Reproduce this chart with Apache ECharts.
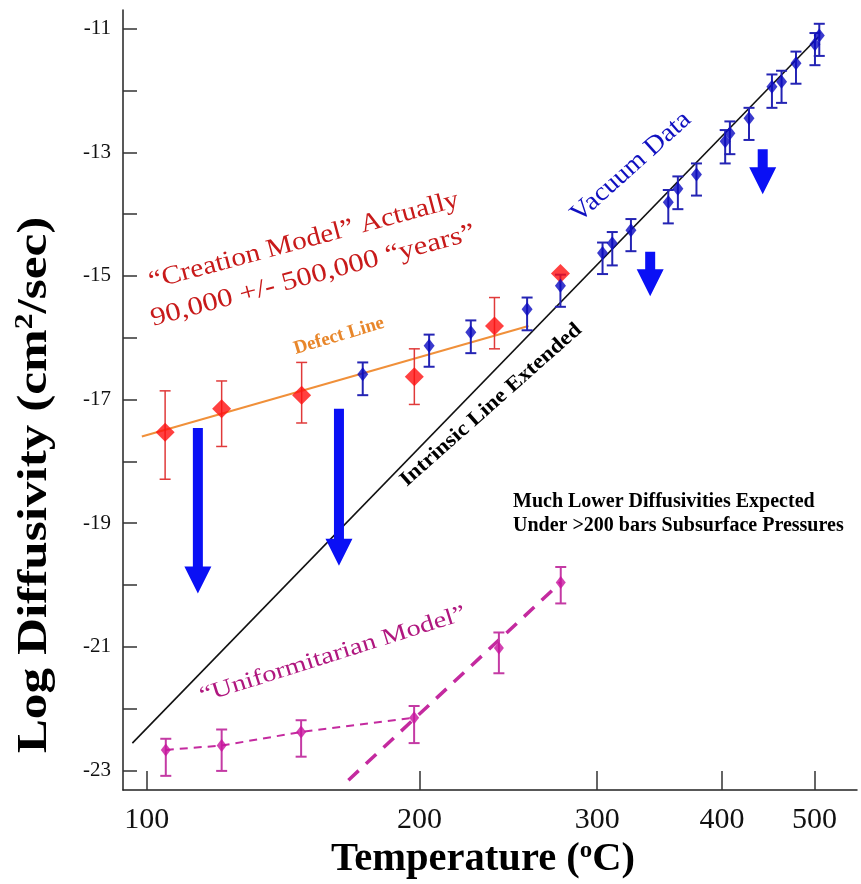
<!DOCTYPE html>
<html lang="en">
<head>
    <meta charset="UTF-8">
    <title>Log Diffusivity vs Temperature</title>
    <style>
        html, body { margin: 0; padding: 0; background: #fff; }
    </style>
</head>
<body>

<div id="main" style="width: 861px; height: 884px;"></div>

<script src="https://cdn.jsdelivr.net/npm/echarts@6/dist/echarts.min.js"></script>
<script>
    // temperatures in deg C, diffusivity as log10(cm^2/sec)
    var tempTicks = [100, 200, 300, 400, 500];
    var logTicks = [-23, -22, -21, -20, -19, -18, -17, -16, -15, -14, -13, -12, -11];
    var logLabels = [-23, -21, -19, -17, -15, -13, -11];

    // red diamonds (defect line points)
    var redT = [105.4, 123.0, 150.9, 197.6, 237.6, 276.0];
    var redD = [-17.53, -17.15, -16.93, -16.63, -15.81, -14.96];
    var redLo = [-18.29, -17.76, -17.38, -17.08, -16.18, null];
    var redHi = [-16.86, -16.70, -16.40, -16.18, -15.35, null];

    // blue diamonds (vacuum data)
    var blueT = [175.0, 204.5, 225.1, 255.9, 276.0, 303.7, 310.5, 324.0, 353.0, 360.9,
        376.8, 403.0, 407.5, 426.4, 450.5, 461.1, 477.6, 500.5, 505.9];
    var blueD = [-16.59, -16.13, -15.91, -15.54, -15.16, -14.63, -14.47, -14.26, -13.81, -13.59,
        -13.36, -12.82, -12.69, -12.45, -11.94, -11.86, -11.56, -11.25, -11.11];
    var blueLo = [-16.93, -16.47, -16.25, -15.88, -15.50, -14.97, -14.83, -14.60, -14.15, -13.92,
        -13.70, -13.18, -13.03, -12.80, -12.28, -12.20, -11.89, -11.59, -11.44];
    var blueHi = [-16.40, -15.95, -15.72, -15.35, -14.98, -14.46, -14.29, -14.08, -13.61, -13.39,
        -13.18, -12.64, -12.50, -12.28, -11.74, -11.68, -11.37, -11.07, -10.92];

    // purple diamonds (uniformitarian model)
    var purpleT = [105.6, 123.0, 150.7, 197.5, 240.0, 276.2];
    var purpleD = [-22.67, -22.60, -22.38, -22.15, -21.02, -19.96];
    var purpleLo = [-23.09, -23.01, -22.78, -22.56, -21.43, -20.30];
    var purpleHi = [-22.49, -22.34, -22.19, -21.96, -20.77, -19.71];

    // straight lines (end points)
    var intrinsicT = [95.9, 505.0];
    var intrinsicD = [-22.56, -11.13];
    var defectT = [98.6, 256.7];
    var defectD = [-17.60, -15.81];
    var steepT = [169.1, 276.2];
    var steepD = [-23.16, -19.96];

    // big blue arrows: temperature, start, tip
    var arrowT = [115.4, 165.3, 338.6, 440.6];
    var arrowFrom = [-17.46, -17.15, -14.61, -12.95];
    var arrowTo = [-20.14, -19.69, -15.33, -13.68];

    // x axis is inverse absolute temperature (1000/K)
    function inv(t) { return 1000 / (t + 273.15); }

    function points(ts, ds) {
        return ts.map(function (t, i) { return [inv(t), ds[i]]; });
    }
    function bars(ts, lo, hi) {
        var out = [];
        ts.forEach(function (t, i) {
            if (lo[i] != null) out.push([inv(t), lo[i], hi[i]]);
        });
        return out;
    }

    function errorBar(color, width, cap) {
        return function (params, api) {
            var x = api.value(0);
            var a = api.coord([x, api.value(1)]);
            var b = api.coord([x, api.value(2)]);
            var h = cap / 2;
            var st = { stroke: color, lineWidth: width };
            return {
                type: 'group',
                children: [
                    { type: 'line', shape: { x1: a[0], y1: a[1], x2: b[0], y2: b[1] }, style: st },
                    { type: 'line', shape: { x1: a[0] - h, y1: a[1], x2: a[0] + h, y2: a[1] }, style: st },
                    { type: 'line', shape: { x1: b[0] - h, y1: b[1], x2: b[0] + h, y2: b[1] }, style: st }
                ]
            };
        };
    }

    function arrowItem(params, api) {
        var x = api.value(0);
        var top = api.coord([x, api.value(1)]);
        var tip = api.coord([x, api.value(2)]);
        var cx = top[0], s = 5, hw = 13.5, hl = 27;
        var yb = tip[1] - hl;
        return {
            type: 'polygon',
            shape: {
                points: [[cx - s, top[1]], [cx + s, top[1]], [cx + s, yb], [cx + hw, yb],
                    [cx, tip[1]], [cx - hw, yb], [cx - s, yb]]
            },
            style: { fill: '#0a10f5' }
        };
    }

    var serif = '"Liberation Serif", "Times New Roman", serif';

    var myChart = echarts.init(document.getElementById('main'));

    var option = {
        animation: false,
        grid: { left: 123, right: 4, top: 10, bottom: 94 },
        xAxis: {
            type: 'value',
            inverse: true,
            min: 1.2053,
            max: 2.7291,
            splitLine: { show: false },
            axisLine: { lineStyle: { color: '#222', width: 1.5 } },
            axisTick: {
                inside: true, length: 19,
                lineStyle: { color: '#333', width: 1.5 },
                customValues: tempTicks.map(inv)
            },
            axisLabel: {
                customValues: tempTicks.map(inv),
                margin: 15,
                color: '#111',
                fontFamily: serif,
                fontSize: 30,
                formatter: function (v) { return String(Math.round(1000 / v - 273.15)); }
            }
        },
        yAxis: {
            type: 'value',
            min: -23.319,
            max: -10.697,
            splitLine: { show: false },
            axisLine: { show: true, lineStyle: { color: '#222', width: 1.5 } },
            axisTick: {
                show: true, inside: true, length: 14,
                lineStyle: { color: '#333', width: 1.5 },
                customValues: logTicks
            },
            axisLabel: {
                customValues: logLabels,
                margin: 12,
                color: '#111',
                fontFamily: serif,
                fontSize: 21
            }
        },
        series: [
            {
                type: 'line', data: points(intrinsicT, intrinsicD), showSymbol: false, silent: true,
                lineStyle: { color: '#111', width: 1.6 }, z: 2
            },
            {
                type: 'line', data: points(defectT, defectD), showSymbol: false, silent: true,
                lineStyle: { color: '#f0903a', width: 2 }, z: 2
            },
            {
                type: 'line', data: points(purpleT.slice(0, 4), purpleD.slice(0, 4)), showSymbol: false,
                silent: true, lineStyle: { color: '#c42a9f', width: 2, type: [8, 6] }, z: 2
            },
            {
                type: 'line', data: points(steepT, steepD), showSymbol: false, silent: true,
                lineStyle: { color: '#c42a9f', width: 3.5, type: [14, 10] }, z: 2
            },
            {
                type: 'custom', renderItem: arrowItem, silent: true, z: 3,
                data: arrowT.map(function (t, i) { return [inv(t), arrowFrom[i], arrowTo[i]]; }),
                encode: { x: 0, y: [1, 2] }
            },
            {
                type: 'custom', renderItem: errorBar('#e03a3a', 1.5, 11), silent: true, z: 4,
                data: bars(redT, redLo, redHi), encode: { x: 0, y: [1, 2] }
            },
            {
                type: 'custom', renderItem: errorBar('#2424b4', 2, 11), silent: true, z: 4,
                data: bars(blueT, blueLo, blueHi), encode: { x: 0, y: [1, 2] }
            },
            {
                type: 'custom', renderItem: errorBar('#c43aa4', 2, 11), silent: true, z: 4,
                data: bars(purpleT, purpleLo, purpleHi), encode: { x: 0, y: [1, 2] }
            },
            {
                type: 'scatter', data: points(redT, redD), symbol: 'diamond', symbolSize: [19, 19],
                itemStyle: { color: '#ff1010' }, z: 5
            },
            {
                type: 'scatter', data: points(blueT, blueD), symbol: 'diamond', symbolSize: [11, 14],
                itemStyle: { color: '#0a0ac0' }, z: 6
            },
            {
                type: 'scatter', data: points(purpleT, purpleD), symbol: 'diamond', symbolSize: [10, 13],
                itemStyle: { color: '#c8139e' }, z: 5
            }
        ],
        graphic: [
            {
                type: 'text', x: 35, y: 485, rotation: Math.PI / 2, scaleX: 1.22,
                style: {
                    text: '{a|Log Diffusivity (cm}{s|2}{a|/sec)}',
                    align: 'center', verticalAlign: 'middle', fill: '#000',
                    rich: {
                        a: { fontFamily: serif, fontWeight: 'bold', fontSize: 42, lineHeight: 46 },
                        s: { fontFamily: serif, fontWeight: 'bold', fontSize: 26, lineHeight: 26, verticalAlign: 'top' }
                    }
                }
            },
            {
                type: 'text', x: 483, y: 860, scaleX: 1.04,
                style: {
                    text: '{a|Temperature (}{s|o}{a|C)}',
                    align: 'center', verticalAlign: 'middle', fill: '#000',
                    rich: {
                        a: { fontFamily: serif, fontWeight: 'bold', fontSize: 39, lineHeight: 42 },
                        s: { fontFamily: serif, fontWeight: 'bold', fontSize: 24, lineHeight: 24, verticalAlign: 'top' }
                    }
                }
            },
            {
                type: 'text', x: 304, y: 241, rotation: 15 * Math.PI / 180, scaleX: 1.13,
                style: {
                    text: '\u201cCreation Model\u201d Actually', align: 'center', verticalAlign: 'middle',
                    fill: '#c81a1a', font: '26px ' + serif
                }
            },
            {
                type: 'text', x: 313, y: 276, rotation: 15 * Math.PI / 180, scaleX: 1.18,
                style: {
                    text: '90,000 +/- 500,000 \u201cyears\u201d', align: 'center', verticalAlign: 'middle',
                    fill: '#c81a1a', font: '26px ' + serif
                }
            },
            {
                type: 'text', x: 339, y: 336, rotation: 16.5 * Math.PI / 180,
                style: {
                    text: 'Defect Line', align: 'center', verticalAlign: 'middle',
                    fill: '#e8862a', font: 'bold 19px ' + serif
                }
            },
            {
                type: 'text', x: 631, y: 167, rotation: 42 * Math.PI / 180, scaleX: 1.08,
                style: {
                    text: 'Vacuum Data', align: 'center', verticalAlign: 'middle',
                    fill: '#1010c0', font: '26px ' + serif
                }
            },
            {
                type: 'text', x: 491, y: 405, rotation: 41.5 * Math.PI / 180, scaleX: 1.1,
                style: {
                    text: 'Intrinsic Line Extended', align: 'center', verticalAlign: 'middle',
                    fill: '#000', font: 'bold 21px ' + serif
                }
            },
            {
                type: 'text', x: 513, y: 489.5,
                style: {
                    text: 'Much Lower Diffusivities Expected\nUnder >200 bars Subsurface Pressures',
                    align: 'left', verticalAlign: 'top', lineHeight: 24,
                    fill: '#000', font: 'bold 20px ' + serif
                }
            },
            {
                type: 'text', x: 333, y: 655, rotation: 17.5 * Math.PI / 180, scaleX: 1.24,
                style: {
                    text: '\u201cUniformitarian Model\u201d', align: 'center', verticalAlign: 'middle',
                    fill: '#b0177f', font: '23px ' + serif
                }
            }
        ]
    };
    myChart.setOption(option);
</script>
</body>
</html>
